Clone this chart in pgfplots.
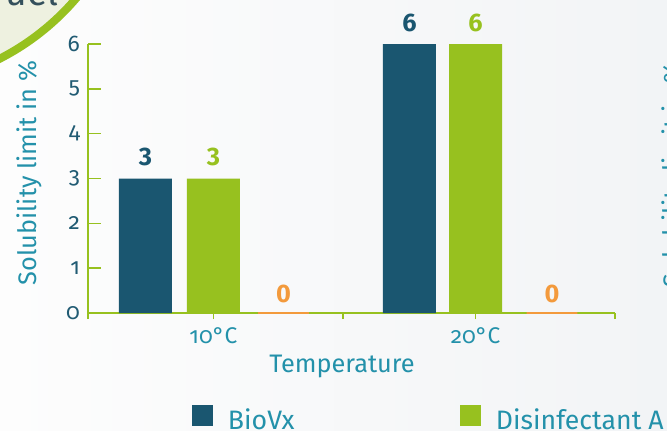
\documentclass[border=0pt]{standalone}
\usepackage{pgfplots}
\pgfplotsset{compat=1.18}
\usepackage{fontspec}
\setmainfont{Fira Sans}
\newfontfamily\osf{Fira Sans}[Numbers=OldStyle]
\definecolor{bioblue}{HTML}{1A5670}
\definecolor{dgreen}{HTML}{97C11F}
\definecolor{dorange}{HTML}{F39A3C}
\definecolor{tealtext}{HTML}{2391AA}
\definecolor{tickblue}{HTML}{215B73}
\definecolor{bgL}{HTML}{FDFDFD}
\definecolor{bgR}{HTML}{F2F4F6}
\definecolor{cream}{HTML}{EEF1E0}
\definecolor{slate}{HTML}{34505C}
\pgfplotsset{sqlegend/.style={/pgfplots/legend image code/.code={\fill[##1] (0pt,-4.5pt) rectangle (15.75pt,11.25pt);}}}
\begin{document}
\begin{tikzpicture}[x=0.75pt,y=0.75pt]
\useasboundingbox (0,0) rectangle (667,430);
\begin{scope}
\clip (0,0) rectangle (667,430);
\shade[left color=bgL, right color=bgR] (0,0) rectangle (667,430);
\fill[cream] (-114,594) circle[radius=190.5pt];
\draw[dgreen, line width=6pt] (-114,594) circle[radius=187.5pt];
\node[anchor=base east, text=slate, font=\fontsize{28}{30}\selectfont, inner sep=0pt] at (59,425) {uel};
\node[rotate=90, anchor=center, text=tealtext, font=\fontsize{19}{21}\selectfont, inner sep=0pt] at (674,255) {Solubility limit in \%};
\end{scope}
\begin{axis}[
  at={(66pt,87.75pt)}, anchor=south west,
  scale only axis, width=395.25pt, height=201.75pt,
  xmin=0, xmax=2, ymin=0, ymax=6,
  clip=false,
  axis lines*=left,
  axis line style={dgreen, line width=1.5pt},
  tick style={dgreen, line width=1.2pt},
  tick align=inside,
  major tick length=9.75pt,
  ytick={0,1,2,3,4,5,6},
  xtick={0,0.968,2},
  xticklabels={},
  x tick style={/pgfplots/major tick length=4.5pt},
  extra x ticks={0.476,1.471},
  extra x tick labels={10°C,20°C},
  extra x tick style={/pgfplots/major tick length=0pt},
  /pgf/number format/assume math mode=true,
  yticklabel style={font=\osf\fontsize{17}{18}\selectfont, text=tickblue, xshift=-2.5pt},
  xticklabel style={font=\osf\fontsize{17}{18}\selectfont, text=tealtext, yshift=-7.5pt},
  ylabel={Solubility limit in \%},
  ylabel style={at={(axis description cs:-0.112,0.52)}, anchor=center, font=\fontsize{19}{21}\selectfont, text=tealtext},
  xlabel={Temperature},
  xlabel style={at={(axis description cs:0.482,-0.197)}, anchor=center, font=\fontsize{19}{21}\selectfont, text=tealtext},
  ybar, bar width=39.75pt,
  nodes near coords,
  every node near coord/.append style={font=\bfseries\fontsize{19}{20}\selectfont, inner sep=0pt, anchor=south},
  legend style={at={(axis description cs:0.1973,-0.39)}, anchor=west, draw=none, fill=none, inner sep=0pt, outer sep=0pt, legend columns=-1, font=\fontsize{20}{22}\selectfont, text=tealtext, nodes={inner sep=0pt}, /tikz/every even column/.append style={column sep=0pt}},
]
\addplot[sqlegend, fill=bioblue, draw=none, bar shift=0pt, every node near coord/.append style={text=bioblue, yshift=9pt}] coordinates {(0.218,3) (1.220,6)};
\addlegendentry{\hspace{11.25pt}\makebox[174pt][l]{BioVx}}
\addplot[sqlegend, fill=dgreen, draw=none, bar shift=0pt, every node near coord/.append style={text=dgreen, yshift=9pt}] coordinates {(0.476,3) (1.471,6)};
\addlegendentry{\hspace{11.25pt}\makebox[174pt][l]{Disinfectant A}}
\addplot[fill=dorange, draw=dorange, line width=1pt, bar width=38pt, bar shift=0pt, every node near coord/.append style={text=dorange, yshift=6.75pt}, forget plot] coordinates {(0.742,0) (1.761,0)};
\end{axis}
\end{tikzpicture}
\end{document}
